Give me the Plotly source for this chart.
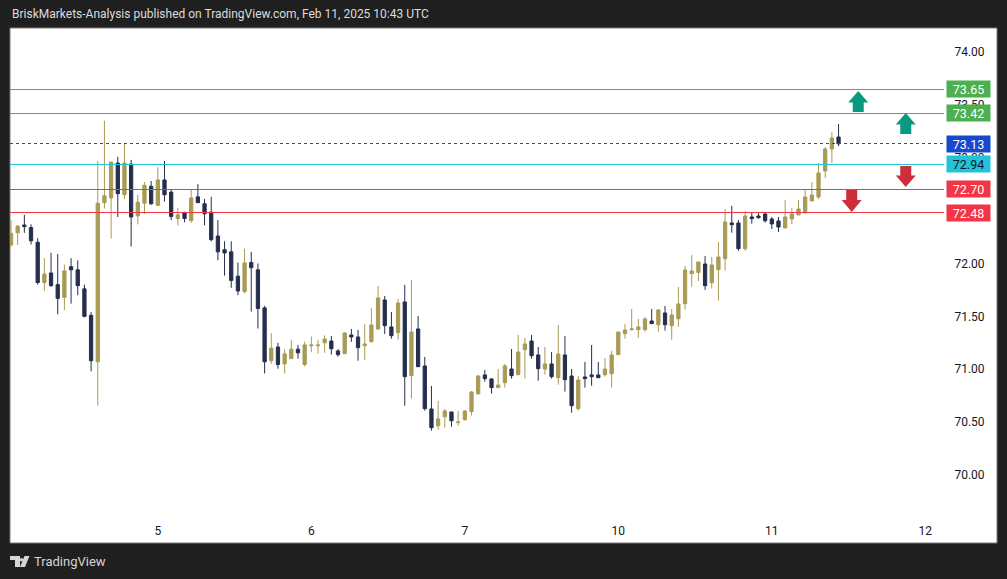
import math
import plotly.graph_objects as go

# ---------------- data (hourly candles, 23 per session) ----------------
open_ = [72.175, 72.29, 72.364, 72.34, 72.20, 71.82, 71.91, 71.80, 71.68, 71.97,
         71.94, 71.76, 71.51, 71.07, 72.575, 72.62, 72.95, 72.65, 72.94, 72.45,
         72.57, 72.73, 72.55, 72.79, 72.675, 72.425, 72.48, 72.405, 72.63, 72.565,
         72.485, 72.26, 72.13, 72.11, 71.88, 71.735, 72.01, 71.94, 71.58, 71.08,
         71.21, 71.05, 71.10, 71.19, 71.045, 71.222, 71.222, 71.25, 71.267, 71.173,
         71.147, 71.324, 71.305, 71.223, 71.261, 71.381, 71.655, 71.400, 71.346, 71.636,
         70.939, 71.381, 71.031, 70.624, 70.466, 70.551, 70.596, 70.495, 70.523, 70.599,
         70.769, 70.946, 70.908, 70.826, 70.873, 71.002, 70.948, 71.185, 71.267, 71.135,
         71.002, 71.050, 70.920, 71.135, 70.936, 70.627, 70.927, 70.946, 70.946, 70.948,
         70.958, 71.138, 71.336, 71.374, 71.374, 71.374, 71.456, 71.421, 71.532, 71.412,
         71.478, 71.620, 71.905, 71.915, 71.995, 71.818, 71.941, 72.045, 72.383, 72.383,
         72.140, 72.440, 72.449, 72.468, 72.421, 72.402, 72.336, 72.421, 72.459, 72.478,
         72.591, 72.629, 72.875, 73.083, 73.196]
high = [72.41, 72.355, 72.46, 72.37, 72.24, 72.05, 72.10, 72.09, 71.99, 72.05,
        72.03, 71.80, 71.54, 72.97, 73.35, 72.96, 73.01, 73.14, 72.98, 72.65,
        72.77, 72.78, 72.91, 72.97, 72.695, 72.525, 72.49, 72.695, 72.75, 72.61,
        72.63, 72.41, 72.21, 72.21, 72.01, 72.14, 72.11, 72.00, 71.60, 71.34,
        71.25, 71.19, 71.28, 71.23, 71.26, 71.31, 71.276, 71.32, 71.314, 71.191,
        71.352, 71.381, 71.371, 71.428, 71.579, 71.787, 71.693, 71.541, 71.664, 71.797,
        71.844, 71.504, 71.116, 70.842, 70.700, 70.624, 70.596, 70.605, 70.615, 70.794,
        70.946, 70.993, 70.917, 71.002, 71.050, 71.191, 71.324, 71.296, 71.324, 71.210,
        71.210, 71.163, 71.418, 71.314, 71.002, 70.936, 71.069, 71.229, 71.069, 71.106,
        71.173, 71.352, 71.428, 71.570, 71.475, 71.494, 71.570, 71.570, 71.598, 71.570,
        71.778, 71.976, 72.080, 72.015, 72.070, 72.061, 72.203, 72.515, 72.544, 72.411,
        72.496, 72.478, 72.487, 72.478, 72.440, 72.440, 72.600, 72.525, 72.600, 72.695,
        72.771, 72.950, 73.102, 73.243, 73.319]
low = [72.16, 72.175, 72.29, 72.18, 71.80, 71.74, 71.78, 71.52, 71.56, 71.62,
       71.70, 71.49, 70.98, 70.655, 72.52, 72.235, 72.44, 72.61, 72.16, 72.37,
       72.47, 72.555, 72.545, 72.585, 72.41, 72.36, 72.39, 72.386, 72.575, 72.36,
       72.21, 72.03, 71.885, 71.77, 71.70, 71.715, 71.545, 71.385, 70.96, 71.05,
       71.005, 70.96, 71.10, 71.10, 71.025, 71.16, 71.147, 71.155, 71.138, 71.119,
       71.147, 71.258, 71.081, 71.090, 71.251, 71.371, 71.333, 71.289, 71.279, 70.655,
       70.722, 71.024, 70.608, 70.419, 70.428, 70.447, 70.457, 70.466, 70.513, 70.561,
       70.754, 70.882, 70.769, 70.826, 70.826, 70.911, 70.948, 70.911, 71.100, 70.892,
       70.948, 70.911, 70.854, 70.788, 70.589, 70.608, 70.826, 70.844, 70.920, 70.930,
       70.826, 71.138, 71.289, 71.365, 71.298, 71.355, 71.431, 71.355, 71.365, 71.279,
       71.402, 71.563, 71.780, 71.835, 71.750, 71.762, 71.648, 71.932, 72.291, 72.121,
       72.121, 72.376, 72.424, 72.386, 72.326, 72.298, 72.336, 72.374, 72.459, 72.478,
       72.591, 72.610, 72.809, 72.950, 73.111]
close = [72.285, 72.355, 72.348, 72.215, 71.82, 71.90, 71.79, 71.67, 71.93, 71.94,
         71.79, 71.50, 71.08, 72.57, 72.64, 72.96, 72.66, 72.95, 72.44, 72.58,
         72.74, 72.565, 72.79, 72.65, 72.445, 72.46, 72.425, 72.62, 72.575, 72.47,
         72.225, 72.11, 72.10, 71.84, 71.74, 72.005, 71.96, 71.575, 71.07, 71.20,
         71.045, 71.145, 71.19, 71.155, 71.23, 71.229, 71.229, 71.285, 71.194, 71.138,
         71.343, 71.305, 71.204, 71.239, 71.418, 71.674, 71.412, 71.317, 71.626, 70.930,
         71.352, 71.024, 70.627, 70.447, 70.530, 70.605, 70.513, 70.501, 70.605, 70.785,
         70.936, 70.911, 70.826, 70.851, 71.031, 70.939, 71.163, 71.239, 71.128, 71.005,
         71.050, 70.930, 71.144, 70.901, 70.655, 70.898, 70.911, 70.930, 70.920, 71.002,
         71.135, 71.352, 71.371, 71.381, 71.400, 71.475, 71.431, 71.560, 71.421, 71.513,
         71.617, 71.939, 71.929, 72.014, 71.790, 71.986, 72.061, 72.392, 72.367, 72.140,
         72.449, 72.424, 72.433, 72.405, 72.374, 72.345, 72.440, 72.468, 72.515, 72.629,
         72.648, 72.856, 73.083, 73.187, 73.132]

bar_index = list(range(len(close)))

day_labels = ["5", "6", "7", "10", "11", "12"]
day_start_bar = [22, 45, 68, 91, 114, 137]

price_ticks = [70.0, 70.5, 71.0, 71.5, 72.0, 72.5, 73.0, 73.5, 74.0]

resistance_levels = [73.65, 73.42]
pivot_level = 72.94
support_levels = [72.70, 72.48]
last_price = close[-1]

# arrows: (bar position, tail price, tip price, kind)
arrows = [
    (126.95, 73.433, 73.631, "up"),
    (134.07, 73.225, 73.423, "up"),
    (134.07, 72.922, 72.723, "down"),
    (125.97, 72.695, 72.487, "down"),
]

# ---------------- style ----------------
UP = "#a89b55"
DN = "#242f4d"
GREEN = "#4caf50"
RED = "#f23645"
CYAN = "#22c3d9"
BLUE = "#1848cc"
ARROW_UP = "#089981"
ARROW_DN = "#cc2e3c"
DARK = "#1f1f1f"
TXT = "#131722"
FONT = "Roboto"

W, H = 1007, 579
L, R, T, B = 10, 944, 28, 518
X_RANGE = [-0.15, 139.8]
Y_RANGE = [69.593, 74.227]
PX_PER_BAR = (R - L) / (X_RANGE[1] - X_RANGE[0])
PX_PER_PRICE = (B - T) / (Y_RANGE[1] - Y_RANGE[0])


def px_x(p):
    return (p - L) / (R - L)


def px_y(p):
    return (B - p) / (B - T)


def crisp(level):
    """nudge a level by < half a pixel so a 1px line lands on a pixel row"""
    ypx = B - (level - Y_RANGE[0]) * PX_PER_PRICE
    ypx = math.floor(ypx) + 0.5
    return Y_RANGE[0] + (B - ypx) / PX_PER_PRICE


fig = go.Figure(go.Candlestick(
    x=bar_index, open=open_, high=high, low=low, close=close,
    increasing=dict(line=dict(color=UP, width=1), fillcolor=UP),
    decreasing=dict(line=dict(color=DN, width=1), fillcolor=DN),
    whiskerwidth=0, hoverinfo="none", showlegend=False,
))

shapes = []
# white chart panel
shapes.append(dict(type="rect", xref="paper", yref="paper",
                   x0=px_x(10), x1=px_x(997), y0=px_y(543), y1=px_y(28),
                   fillcolor="white", line=dict(color="#7a7a7a", width=1), layer="below"))


def hline(level, color, dash="solid"):
    y = crisp(level)
    shapes.append(dict(type="line", xref="paper", yref="y", x0=0, x1=1, y0=y, y1=y,
                       line=dict(color=color, width=1, dash=dash)))


for lv in resistance_levels:
    hline(lv, GREEN)
hline(pivot_level, CYAN)
for lv in support_levels:
    hline(lv, RED)
hline(last_price, BLUE, "dot")

# arrows
half_w = 10 / PX_PER_BAR
shaft_w = 5.5 / PX_PER_BAR
for xc, y_tail, y_tip, kind in arrows:
    y_neck = y_tail + (y_tip - y_tail) * 0.45
    pts = [(xc - shaft_w, y_tail), (xc - shaft_w, y_neck), (xc - half_w, y_neck),
           (xc, y_tip), (xc + half_w, y_neck), (xc + shaft_w, y_neck), (xc + shaft_w, y_tail)]
    path = "M " + " L ".join(f"{a:.4f},{b:.4f}" for a, b in pts) + " Z"
    col = ARROW_UP if kind == "up" else ARROW_DN
    shapes.append(dict(type="path", xref="x", yref="y", path=path,
                       fillcolor=col, line=dict(color=col, width=0)))

# TradingView logo mark
LOGO_COL = "#d6d6d6"
logo = [
    [(10, 556), (20, 556), (20, 567), (15, 567), (15, 560), (10, 560)],
    [(24.5, 556), (29.5, 556), (25, 567), (20, 567)],
]
for poly in logo:
    path = "M " + " L ".join(f"{px_x(a):.5f},{px_y(b):.5f}" for a, b in poly) + " Z"
    shapes.append(dict(type="path", xref="paper", yref="paper", path=path,
                       fillcolor=LOGO_COL, line=dict(width=0)))
shapes.append(dict(type="circle", xref="paper", yref="paper",
                   x0=px_x(19.8), x1=px_x(23.2), y0=px_y(561.5), y1=px_y(558.1),
                   fillcolor=LOGO_COL, line=dict(width=0)))

annotations = []
# price labels
labels = [(resistance_levels[0], GREEN, "white"), (resistance_levels[1], GREEN, "white"),
          (last_price, BLUE, "white"), (pivot_level, CYAN, TXT),
          (support_levels[0], RED, "white"), (support_levels[1], RED, "white")]
for lv, bg, fg in labels:
    annotations.append(dict(xref="paper", yref="y", x=px_x(946), y=lv, xanchor="left",
                            yanchor="middle", text=f"{lv:.2f}", showarrow=False,
                            bgcolor=bg, borderpad=2, width=39, height=12, align="center",
                            font=dict(family=FONT, size=12.5, color=fg)))

annotations.append(dict(xref="paper", yref="paper", x=px_x(10), y=px_y(14), xanchor="left",
                        yanchor="middle", showarrow=False,
                        text="BriskMarkets-Analysis published on TradingView.com, Feb 11, 2025 10:43 UTC",
                        font=dict(family=FONT, size=12, color="#dcdcdc")))
annotations.append(dict(xref="paper", yref="paper", x=px_x(32), y=px_y(561), xanchor="left",
                        yanchor="middle", showarrow=False, text="TradingView",
                        font=dict(family=FONT, size=13, color=LOGO_COL)))

fig.update_layout(
    width=W, height=H, autosize=False,
    margin=dict(l=L, r=W - R, t=T, b=H - B, pad=0),
    paper_bgcolor=DARK, plot_bgcolor="white",
    shapes=shapes, annotations=annotations,
    font=dict(family=FONT, size=12, color=TXT),
    xaxis=dict(range=X_RANGE, showgrid=False, zeroline=False, showline=False,
               rangeslider=dict(visible=False), tickmode="array",
               tickvals=day_start_bar, ticktext=day_labels,
               ticks="outside", ticklen=2, tickcolor="rgba(0,0,0,0)",
               tickfont=dict(family=FONT, size=12, color=TXT)),
    yaxis=dict(range=Y_RANGE, side="right", showgrid=False, zeroline=False, showline=False,
               tickmode="array", tickvals=price_ticks,
               ticktext=[f"{v:.2f}" for v in price_ticks],
               ticks="outside", ticklen=7, tickcolor="rgba(0,0,0,0)",
               tickfont=dict(family=FONT, size=12, color=TXT)),
    showlegend=False,
)

fig.write_html("out.html", config={"displayModeBar": False},
               post_script="document.body.style.margin='0';document.body.style.background='#1f1f1f';")
